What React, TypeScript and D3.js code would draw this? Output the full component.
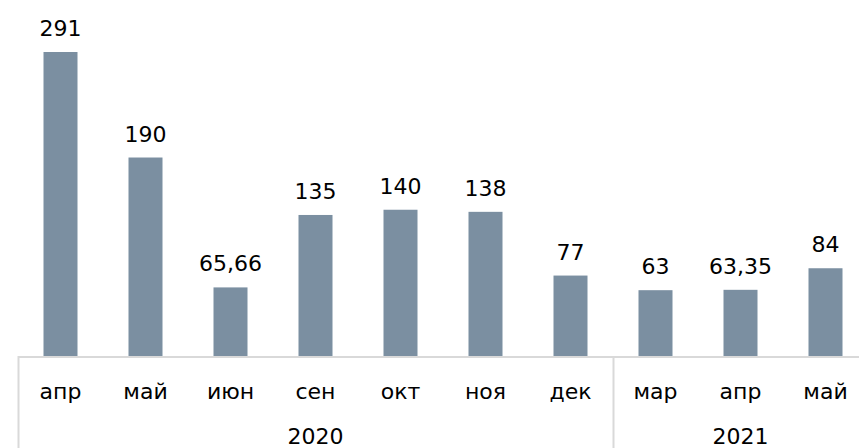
import React, { useEffect, useRef } from "react";
import * as d3 from "d3";

const months = ["апр", "май", "июн", "сен", "окт", "ноя", "дек", "мар", "апр", "май"];
const values = [291, 190, 65.66, 135, 140, 138, 77, 63, 63.35, 84];
const labels = ["291", "190", "65,66", "135", "140", "138", "77", "63", "63,35", "84"];
const years = [
  { year: "2020", from: 0, to: 7 },
  { year: "2021", from: 7, to: 10 },
];

const App = () => {
  const svgRef = useRef<SVGSVGElement>(null);

  useEffect(() => {
    const width = 859;
    const height = 448;
    const left = 18;
    const step = 85;
    const base = 356;

    const svg = d3.select(svgRef.current);
    svg.selectAll("*").remove();
    svg.attr("width", width).attr("height", height);

    const font = "'DejaVu Sans', Verdana, sans-serif";
    const idx = d3.range(months.length).map(String);

    const x = d3
      .scaleBand()
      .domain(idx)
      .range([left, left + step * months.length])
      .paddingInner(0.6)
      .paddingOuter(0.3);

    const y = d3.scaleLinear().domain([0, 291]).range([base, 52]);

    svg
      .selectAll("rect.bar")
      .data(values)
      .enter()
      .append("rect")
      .attr("class", "bar")
      .attr("x", (d, i) => x(String(i))!)
      .attr("width", x.bandwidth())
      .attr("y", (d) => y(d))
      .attr("height", (d) => base - y(d))
      .attr("fill", "#7b8fa1");

    svg
      .selectAll("text.val")
      .data(values)
      .enter()
      .append("text")
      .attr("class", "val")
      .attr("x", (d, i) => x(String(i))! + x.bandwidth() / 2)
      .attr("y", (d) => y(d) - 16)
      .attr("text-anchor", "middle")
      .style("font-family", font)
      .style("font-size", "22px")
      .attr("fill", "#000")
      .text((d, i) => labels[i]);

    const grid = "#d9d9d9";
    svg
      .append("line")
      .attr("x1", left)
      .attr("x2", width)
      .attr("y1", base + 1)
      .attr("y2", base + 1)
      .attr("stroke", grid)
      .attr("stroke-width", 2);

    const groupX = (i: number) => left + i * step;

    svg
      .selectAll("line.sep")
      .data([0, 7])
      .enter()
      .append("line")
      .attr("class", "sep")
      .attr("x1", (d) => groupX(d) + 0.5)
      .attr("x2", (d) => groupX(d) + 0.5)
      .attr("y1", base)
      .attr("y2", height)
      .attr("stroke", grid)
      .attr("stroke-width", 2);

    svg
      .selectAll("text.month")
      .data(months)
      .enter()
      .append("text")
      .attr("class", "month")
      .attr("x", (d, i) => x(String(i))! + x.bandwidth() / 2)
      .attr("y", 399)
      .attr("text-anchor", "middle")
      .style("font-family", font)
      .style("font-size", "22px")
      .text((d) => d);

    svg
      .selectAll("text.year")
      .data(years)
      .enter()
      .append("text")
      .attr("class", "year")
      .attr("x", (d) => (groupX(d.from) + groupX(d.to)) / 2)
      .attr("y", 444)
      .attr("text-anchor", "middle")
      .style("font-family", font)
      .style("font-size", "22px")
      .text((d) => d.year);
  }, []);

  return (
    <div style={{ position: "absolute", left: 0, top: 0 }}>
      <svg ref={svgRef}></svg>
    </div>
  );
};

export default App;
